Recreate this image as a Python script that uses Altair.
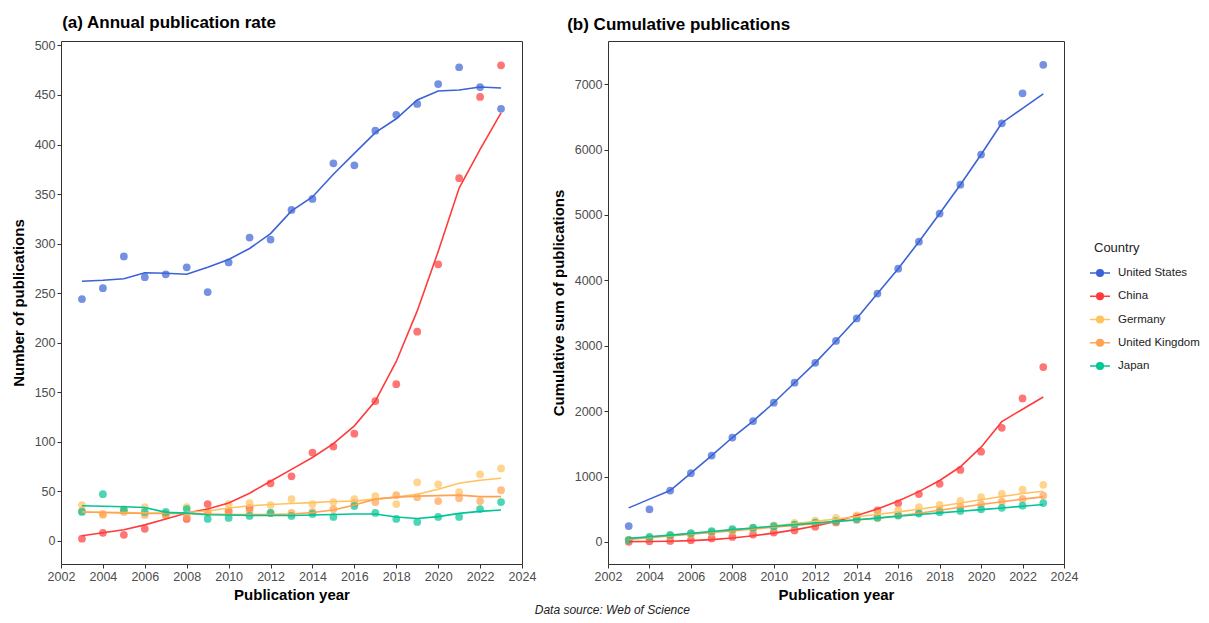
import altair as alt
import pandas as pd

years = list(range(2003, 2024))
countries = ["United States", "China", "Germany", "United Kingdom", "Japan"]
colors = ["#3B62D6", "#FF3B3B", "#FFC25E", "#FFA251", "#00C595"]

# annual publications (points, panel a)
us_annual = [244, 255, 287, 266, 269, 276, 251, 281, 306, 304, 334, 345, 381, 379, 414, 430, 441, 461, 478, 458, 436]
cn_annual = [2, 8, 6, 12, 26, 22, 37, 30, 33, 58, 65, 89, 95, 108, 141, 158, 211, 279, 366, 448, 480]
de_annual = [36, 26, 32, 34, 26, 34, 28, 37, 38, 36, 42, 37, 39, 42, 45, 37, 59, 57, 49, 67, 73]
uk_annual = [30, 27, 29, 26, 27, 24, 29, 29, 30, 28, 28, 29, 32, 38, 39, 46, 44, 40, 43, 40, 51]
jp_annual = [29, 47, 31, 29, 29, 32, 22, 23, 25, 28, 25, 27, 24, 35, 28, 22, 19, 24, 24, 32, 39]

# smoothed trend lines, panel a
us_fit = [262, 263, 264.5, 270.5, 270, 269, 276, 284, 295, 310, 333, 347, 370, 391, 412, 426, 445, 454, 455, 458, 457]
cn_fit = [5, 8, 11, 16, 22, 28, 32, 38, 48, 60, 72, 84, 98, 116, 141, 181, 232, 292, 356, 395, 432]
de_fit = [29, 28.7, 28.4, 28, 28, 28.5, 30, 33, 35.3, 36.5, 37.6, 38.5, 39.6, 40, 42, 44, 47, 52, 58, 61, 63]
uk_fit = [29, 28.5, 28, 27.5, 27.5, 27.5, 27, 26.5, 26.5, 26.5, 27, 28.5, 31, 36, 42, 44, 45, 45.5, 46, 44.5, 44.5]
jp_fit = [35.3, 34.8, 34.3, 33.6, 28.6, 27.9, 26.2, 26, 25.5, 25.5, 25.5, 26, 26.5, 27, 27, 24, 22.5, 24.3, 27.6, 29.6, 31]

# smoothed trend lines, panel b (cumulative)
us_cfit = [521, 655, 787, 1052, 1321, 1597, 1848, 2129, 2435, 2739, 3073, 3418, 3799, 4178, 4592, 5022, 5463, 5924, 6407, 6631, 6851]
cn_cfit = [5, 8, 12, 20, 35, 60, 95, 135, 185, 245, 315, 405, 505, 625, 770, 940, 1150, 1450, 1840, 2030, 2216]
de_cfit = [50, 75, 100, 128, 155, 185, 212, 245, 280, 315, 350, 385, 420, 460, 500, 545, 595, 645, 695, 740, 776]
uk_cfit = [40, 65, 92, 118, 145, 170, 197, 225, 252, 280, 308, 335, 365, 400, 440, 485, 530, 572, 615, 655, 690]
jp_cfit = [55, 80, 105, 132, 160, 188, 214, 240, 265, 290, 315, 340, 365, 393, 420, 445, 470, 495, 520, 545, 572]

series = {
    "United States": (us_annual, us_fit, us_cfit),
    "China": (cn_annual, cn_fit, cn_cfit),
    "Germany": (de_annual, de_fit, de_cfit),
    "United Kingdom": (uk_annual, uk_fit, uk_cfit),
    "Japan": (jp_annual, jp_fit, jp_cfit),
}

rows = []
for c in countries:
    a, f, cf = series[c]
    for y, v1, v2, v3 in zip(years, a, f, cf):
        rows.append({"year": y, "country": c, "annual": v1, "fit": v2, "cfit": v3})
df = pd.DataFrame(rows)

FONT = "Liberation Sans"
color_scale = alt.Scale(domain=countries, range=colors)
color_enc = alt.Color("country:N", scale=color_scale, sort=countries,
                      legend=alt.Legend(title="Country"))

x_enc = alt.X("year:Q", scale=alt.Scale(domain=[2002, 2024], nice=False, zero=False),
              axis=alt.Axis(values=list(range(2002, 2025, 2)), format="d", title="Publication year",
                            labelOverlap=False, labelFlush=False))

ya_scale = alt.Scale(domain=[-23.5, 504.5], nice=False, zero=False)
yb_scale = alt.Scale(domain=[-337, 7660], nice=False, zero=False)
ya_axis = alt.Axis(values=list(range(0, 501, 50)), format="d", title="Number of publications",
                   labelOverlap=False)
yb_axis = alt.Axis(values=list(range(0, 7001, 1000)), format="d",
                   title="Cumulative sum of publications", labelOverlap=False)

base = alt.Chart(df)

pts_a = base.mark_circle(size=60, opacity=0.7).encode(
    x=x_enc,
    y=alt.Y("annual:Q", scale=ya_scale, axis=ya_axis),
    color=color_enc,
)
line_a = base.mark_line(strokeWidth=1.6).encode(
    x=x_enc,
    y=alt.Y("fit:Q", scale=ya_scale, axis=ya_axis),
    color=color_enc,
)
panel_a = alt.layer(pts_a, line_a).properties(
    width=461, height=523,
    title=alt.TitleParams("(a) Annual publication rate", anchor="start", fontSize=17,
                          fontWeight="bold", font=FONT, offset=7, dx=51),
)

pts_b = base.transform_window(
    cum="sum(annual)", groupby=["country"], sort=[alt.SortField("year")], frame=[None, 0]
).mark_circle(size=60, opacity=0.7).encode(
    x=x_enc,
    y=alt.Y("cum:Q", scale=yb_scale, axis=yb_axis),
    color=color_enc,
)
line_b = base.mark_line(strokeWidth=1.6).encode(
    x=x_enc,
    y=alt.Y("cfit:Q", scale=yb_scale, axis=yb_axis),
    color=color_enc,
)
panel_b = alt.layer(pts_b, line_b).properties(
    width=456, height=523,
    title=alt.TitleParams("(b) Cumulative publications", anchor="start", fontSize=17,
                          fontWeight="bold", font=FONT, offset=7, dx=16),
)

legend_symbol = "M-2,0L2,0M0.65,0A0.65,0.65,0,1,1,-0.65,0A0.65,0.65,0,1,1,0.65,0"

chart = alt.hconcat(panel_a, panel_b, spacing=13).properties(
    padding={"left": 2, "top": 5, "right": 0, "bottom": 0},
    title=alt.TitleParams("Data source: Web of Science", orient="bottom", anchor="middle",
                          fontSize=12, fontStyle="italic", fontWeight="normal", font=FONT,
                          color="#222222", offset=2, dx=7),
).configure_view(
    stroke="#333333", strokeWidth=1
).configure_axis(
    grid=False, domain=False, tickColor="#333333", tickSize=4, tickWidth=1,
    labelColor="#4D4D4D", labelFontSize=12.5, labelFont=FONT,
    titleFont=FONT, titleFontSize=15, titleFontWeight="bold", titleColor="black",
    labelPadding=2,
).configure_axisX(
    titlePadding=5,
).configure_axisY(
    titlePadding=8,
).configure_legend(
    orient="none", legendX=1033, legendY=201,
    titleFont=FONT, titleFontSize=13, titleFontWeight="normal", titleColor="#222222",
    labelFont=FONT, labelFontSize=11.5, labelColor="#222222",
    symbolType=legend_symbol, symbolSize=100, symbolStrokeWidth=1.6, symbolOpacity=1,
    rowPadding=9.25, labelOffset=12, titlePadding=12,
)

chart.save("out.html", embed_options={"renderer": "svg", "actions": False})
